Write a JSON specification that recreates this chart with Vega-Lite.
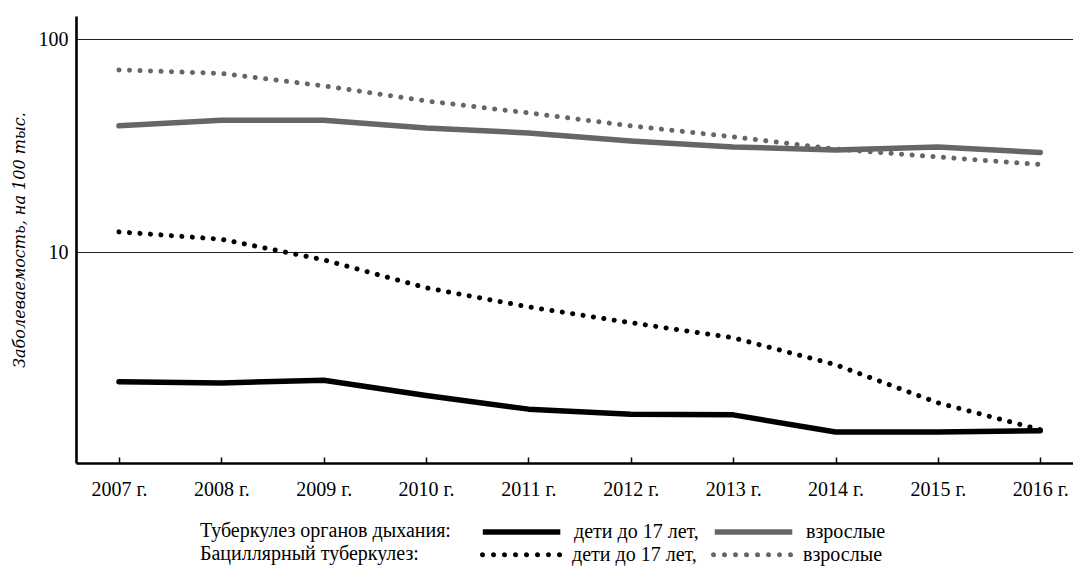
{
  "$schema": "https://vega.github.io/schema/vega-lite/v6.json",
  "autosize": {"type": "none"},
  "padding": {"left": 76, "top": 16, "right": 0, "bottom": 103},
  "width": 997,
  "height": 447,
  "background": "white",
  "config": {
    "view": {"stroke": null},
    "font": "Liberation Serif",
    "axis": {"labelFont": "Liberation Serif", "titleFont": "Liberation Serif", "labelColor": "black", "titleColor": "black"},
    "legend": {"labelFont": "Liberation Serif", "titleFont": "Liberation Serif"}
  },
  "data": {
    "values": [
      {"year": 2007, "type": "resp", "group": "дети до 17 лет,", "value": 2.46},
      {"year": 2008, "type": "resp", "group": "дети до 17 лет,", "value": 2.43},
      {"year": 2009, "type": "resp", "group": "дети до 17 лет,", "value": 2.50},
      {"year": 2010, "type": "resp", "group": "дети до 17 лет,", "value": 2.12},
      {"year": 2011, "type": "resp", "group": "дети до 17 лет,", "value": 1.83},
      {"year": 2012, "type": "resp", "group": "дети до 17 лет,", "value": 1.73},
      {"year": 2013, "type": "resp", "group": "дети до 17 лет,", "value": 1.72},
      {"year": 2014, "type": "resp", "group": "дети до 17 лет,", "value": 1.43},
      {"year": 2015, "type": "resp", "group": "дети до 17 лет,", "value": 1.43},
      {"year": 2016, "type": "resp", "group": "дети до 17 лет,", "value": 1.45},
      {"year": 2007, "type": "resp", "group": "взрослые", "value": 39.2},
      {"year": 2008, "type": "resp", "group": "взрослые", "value": 41.6},
      {"year": 2009, "type": "resp", "group": "взрослые", "value": 41.6},
      {"year": 2010, "type": "resp", "group": "взрослые", "value": 38.3},
      {"year": 2011, "type": "resp", "group": "взрослые", "value": 36.3},
      {"year": 2012, "type": "resp", "group": "взрослые", "value": 33.3},
      {"year": 2013, "type": "resp", "group": "взрослые", "value": 31.2},
      {"year": 2014, "type": "resp", "group": "взрослые", "value": 30.2},
      {"year": 2015, "type": "resp", "group": "взрослые", "value": 31.2},
      {"year": 2016, "type": "resp", "group": "взрослые", "value": 29.4},
      {"year": 2007, "type": "bac", "group": "дети до 17 лет,", "value": 12.45},
      {"year": 2008, "type": "bac", "group": "дети до 17 лет,", "value": 11.5},
      {"year": 2009, "type": "bac", "group": "дети до 17 лет,", "value": 9.2},
      {"year": 2010, "type": "bac", "group": "дети до 17 лет,", "value": 6.8},
      {"year": 2011, "type": "bac", "group": "дети до 17 лет,", "value": 5.53},
      {"year": 2012, "type": "bac", "group": "дети до 17 лет,", "value": 4.66},
      {"year": 2013, "type": "bac", "group": "дети до 17 лет,", "value": 3.96},
      {"year": 2014, "type": "bac", "group": "дети до 17 лет,", "value": 2.96},
      {"year": 2015, "type": "bac", "group": "дети до 17 лет,", "value": 1.96},
      {"year": 2016, "type": "bac", "group": "дети до 17 лет,", "value": 1.465},
      {"year": 2007, "type": "bac", "group": "взрослые", "value": 71.8},
      {"year": 2008, "type": "bac", "group": "взрослые", "value": 69.1},
      {"year": 2009, "type": "bac", "group": "взрослые", "value": 60.4},
      {"year": 2010, "type": "bac", "group": "взрослые", "value": 51.3},
      {"year": 2011, "type": "bac", "group": "взрослые", "value": 45.1},
      {"year": 2012, "type": "bac", "group": "взрослые", "value": 39.2},
      {"year": 2013, "type": "bac", "group": "взрослые", "value": 34.8},
      {"year": 2014, "type": "bac", "group": "взрослые", "value": 30.5},
      {"year": 2015, "type": "bac", "group": "взрослые", "value": 28.0},
      {"year": 2016, "type": "bac", "group": "взрослые", "value": 25.8}
    ]
  },
  "encoding": {
    "x": {
      "field": "year", "type": "quantitative",
      "scale": {"domain": [2006.58, 2016.32], "nice": false, "zero": false},
      "axis": {
        "title": null, "values": [2007, 2008, 2009, 2010, 2011, 2012, 2013, 2014, 2015, 2016],
        "labelExpr": "datum.value + ' г.'", "labelFontSize": 20, "labelPadding": 22,
        "ticks": true, "tickSize": -6, "tickWidth": 1.5, "tickColor": "black",
        "domainColor": "black", "domainWidth": 2.6, "grid": false, "labelFlush": false, "labelOverlap": false
      }
    },
    "y": {
      "field": "value", "type": "quantitative",
      "scale": {"type": "log", "domain": [1.022, 128.6], "nice": false, "zero": false},
      "axis": {
        "title": "Заболеваемость, на 100 тыс.", "titleFont": "DejaVu Serif", "titleFontStyle": "italic", "titleFontWeight": "normal", "titleFontSize": 16, "titlePadding": 11,
        "values": [10, 100], "format": "d", "labelFontSize": 20, "labelPadding": 8,
        "ticks": false, "domainColor": "black", "domainWidth": 2.6,
        "grid": true, "gridColor": "#222", "gridWidth": 1, "labelFlush": false
      }
    }
  },
  "layer": [
    {
      "transform": [{"filter": "datum.type == 'resp'"}],
      "mark": {"type": "line", "strokeWidth": 5.5, "strokeCap": "round", "strokeJoin": "round"},
      "encoding": {
        "color": {
          "field": "group", "type": "nominal",
          "scale": {"domain": ["дети до 17 лет,", "взрослые"], "range": ["#000000", "#666666"]},
          "legend": {
            "orient": "none", "legendX": 124, "legendY": 503, "direction": "horizontal", "columns": 2,
            "title": "Туберкулез органов дыхания:", "titleOrient": "left", "titleAnchor": "middle", "titleBaseline": "middle", "titleLimit": 500,
            "titleFontSize": 20, "titleFontWeight": "normal", "titleColor": "black", "titlePadding": 89,
            "labelFontSize": 20, "labelColor": "black", "labelOffset": 8, "columnPadding": 4, "labelLimit": 300,
            "symbolType": "M-7.02,0L0.73,0", "symbolSize": 400, "symbolStrokeWidth": 5.5
          }
        }
      }
    },
    {
      "transform": [{"filter": "datum.type == 'bac'"}],
      "mark": {"type": "line", "strokeWidth": 5, "strokeCap": "round", "strokeDash": [0.1, 10.4]},
      "encoding": {
        "color": {
          "field": "group", "type": "nominal",
          "scale": {"domain": ["дети до 17 лет,", "взрослые"], "range": ["#000000", "#666666"]},
          "legend": {
            "orient": "none", "legendX": 124, "legendY": 527, "direction": "horizontal", "columns": 2,
            "title": "Бациллярный туберкулез:", "titleOrient": "left", "titleAnchor": "middle", "titleBaseline": "middle", "titleLimit": 500,
            "titleFontSize": 20, "titleFontWeight": "normal", "titleColor": "black", "titlePadding": 122,
            "labelFontSize": 20, "labelColor": "black", "labelOffset": 8, "columnPadding": 10, "labelLimit": 300,
            "symbolType": "M-7.12,0a0.12,0.12 0 1,0 0.24,0a0.12,0.12 0 1,0 -0.24,0M-6.02,0a0.12,0.12 0 1,0 0.24,0a0.12,0.12 0 1,0 -0.24,0M-4.92,0a0.12,0.12 0 1,0 0.24,0a0.12,0.12 0 1,0 -0.24,0M-3.82,0a0.12,0.12 0 1,0 0.24,0a0.12,0.12 0 1,0 -0.24,0M-2.72,0a0.12,0.12 0 1,0 0.24,0a0.12,0.12 0 1,0 -0.24,0M-1.62,0a0.12,0.12 0 1,0 0.24,0a0.12,0.12 0 1,0 -0.24,0M-0.52,0a0.12,0.12 0 1,0 0.24,0a0.12,0.12 0 1,0 -0.24,0M0.58,0a0.12,0.12 0 1,0 0.24,0a0.12,0.12 0 1,0 -0.24,0",
            "symbolSize": 400, "symbolStrokeWidth": 2.6, "symbolDash": [100, 0]
          }
        }
      }
    }
  ],
  "resolve": {"scale": {"color": "independent"}}
}
